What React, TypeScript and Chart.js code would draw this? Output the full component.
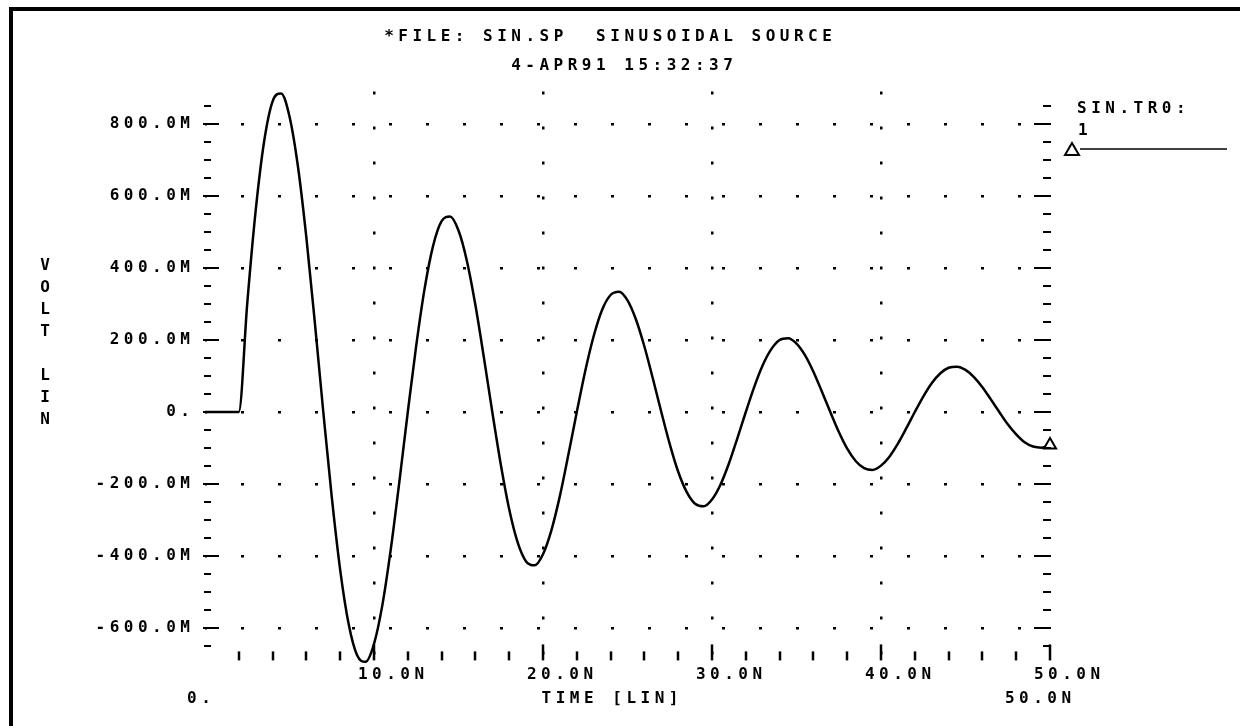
import React, { useEffect, useRef } from "react";
import { Chart, registerables } from "chart.js";

Chart.register(...registerables);

// ---- data ----
const timeNs = [
  0, 0.5, 1, 1.5, 2,
  2.5, 3, 3.5, 4, 4.5, 5, 5.5, 6, 6.5, 7,
  7.5, 8, 8.5, 9, 9.5, 10, 10.5, 11, 11.5, 12,
  12.5, 13, 13.5, 14, 14.5, 15, 15.5, 16, 16.5, 17,
  17.5, 18, 18.5, 19, 19.5, 20, 20.5, 21, 21.5, 22,
  22.5, 23, 23.5, 24, 24.5, 25, 25.5, 26, 26.5, 27,
  27.5, 28, 28.5, 29, 29.5, 30, 30.5, 31, 31.5, 32,
  32.5, 33, 33.5, 34, 34.5, 35, 35.5, 36, 36.5, 37,
  37.5, 38, 38.5, 39, 39.5, 40, 40.5, 41, 41.5, 42,
  42.5, 43, 43.5, 44, 44.5, 45, 45.5, 46, 46.5, 47,
  47.5, 48, 48.5, 49, 49.5, 50,
];

const voltageMv = [
  0, 0, 0, 0, 0,
  302, 560, 752, 863, 885, 821, 682, 484, 248, 0,
  -236, -439, -589, -676, -694, -644, -535, -379, -194, 0,
  185, 344, 462, 530, 543, 504, 419, 297, 152, 0,
  -145, -270, -362, -415, -426, -395, -328, -233, -119, 0,
  114, 211, 284, 325, 334, 310, 257, 182, 93, 0,
  -89, -166, -222, -255, -262, -243, -202, -143, -73, 0,
  70, 130, 174, 200, 205, 190, 158, 112, 57, 0,
  -55, -102, -136, -156, -161, -149, -124, -88, -45, 0,
  43, 80, 107, 123, 126, 117, 97, 69, 35, 0,
  -34, -62, -84, -96, -99, -92,
];

const yTickValues = [800, 600, 400, 200, 0, -200, -400, -600];
const yTickLabels = ["800.0M", "600.0M", "400.0M", "200.0M", "0.", "-200.0M", "-400.0M", "-600.0M"];
const xGridValues = [10, 20, 30, 40];
const xTickValues = [10, 20, 30, 40, 50];
const xTickLabels = ["10.0N", "20.0N", "30.0N", "40.0N", "50.0N"];
const xRangeStartLabel = "0.";
const xRangeEndLabel = "50.0N";
const xAxisTitle = "TIME [LIN]";
const yAxisTitle = "VOLT LIN";
const titleLine1 = "*FILE: SIN.SP  SINUSOIDAL SOURCE";
const titleLine2 = "4-APR91 15:32:37";
const legendFile = "SIN.TR0:";
const legendIndex = "1";

const FONT = 'bold 16px "DejaVu Sans Mono"';
const SPACING = 4.5;

function drawText(ctx: any, text: string, x: number, y: number, align: "left" | "center" | "right") {
  ctx.textAlign = align;
  let dx = 0;
  if (align === "center") dx = SPACING / 2;
  if (align === "right") dx = SPACING;
  ctx.fillText(text, x + dx, y);
}

const hspicePlugin = {
  id: "hspiceDecor",
  afterDraw(chart: any) {
    const ctx = chart.ctx;
    const xs = chart.scales.x;
    const ys = chart.scales.y;
    const L = chart.chartArea.left;
    const R = chart.chartArea.right;
    const B = chart.chartArea.bottom;
    ctx.save();
    ctx.strokeStyle = "#000";
    ctx.fillStyle = "#000";

    // frame
    ctx.lineWidth = 4;
    ctx.beginPath();
    ctx.moveTo(11, 726);
    ctx.lineTo(11, 9);
    ctx.lineTo(1240, 9);
    ctx.stroke();

    // y ticks (left and right), every 50mV, major every 200mV
    ctx.lineWidth = 2;
    for (let v = -650; v <= 850; v += 50) {
      const y = Math.round(ys.getPixelForValue(v));
      const major = v % 200 === 0;
      ctx.beginPath();
      if (major) {
        ctx.moveTo(L - 2, y);
        ctx.lineTo(L + 14, y);
        ctx.moveTo(R + 1, y);
        ctx.lineTo(R - 16, y);
      } else {
        ctx.moveTo(L - 1, y);
        ctx.lineTo(L + 6, y);
        ctx.moveTo(R + 1, y);
        ctx.lineTo(R - 7, y);
      }
      ctx.stroke();
    }

    // x ticks along the bottom, every 2ns, major every 10ns
    ctx.lineWidth = 2.5;
    for (let t = 2; t <= 50; t += 2) {
      const x = Math.round(xs.getPixelForValue(t));
      const major = t % 10 === 0;
      ctx.beginPath();
      ctx.moveTo(x, B);
      ctx.lineTo(x, major ? B - 16 : B - 9);
      ctx.stroke();
    }

    // text
    ctx.font = FONT;
    (ctx as any).letterSpacing = SPACING + "px";
    ctx.textBaseline = "middle";

    yTickValues.forEach((v, i) => {
      drawText(ctx, yTickLabels[i], 190, ys.getPixelForValue(v), "right");
    });
    xTickValues.forEach((v, i) => {
      drawText(ctx, xTickLabels[i], xs.getPixelForValue(v) + 17, 675, "center");
    });
    drawText(ctx, xRangeStartLabel, xs.getPixelForValue(0) - 6, 699, "center");
    drawText(ctx, xRangeEndLabel, xs.getPixelForValue(50) - 12, 699, "center");
    drawText(ctx, xAxisTitle, 610, 699, "center");

    drawText(ctx, titleLine1, 608, 37, "center");
    drawText(ctx, titleLine2, 622, 66, "center");

    // stacked y-axis title
    const chars = yAxisTitle.split("");
    chars.forEach((c, i) => {
      if (c !== " ") drawText(ctx, c, 45, 266 + i * 22, "center");
    });

    // legend
    drawText(ctx, legendFile, 1077, 109, "left");
    drawText(ctx, legendIndex, 1078, 131, "left");
    ctx.lineWidth = 1.5;
    ctx.beginPath();
    ctx.moveTo(1080, 149);
    ctx.lineTo(1227, 149);
    ctx.stroke();
    ctx.lineWidth = 2;
    ctx.fillStyle = "#fff";
    ctx.beginPath();
    ctx.moveTo(1072, 143);
    ctx.lineTo(1079, 155);
    ctx.lineTo(1065, 155);
    ctx.closePath();
    ctx.fill();
    ctx.stroke();

    ctx.restore();
  },
};

export default function App() {
  const canvasRef = useRef<HTMLCanvasElement | null>(null);

  useEffect(() => {
    const canvas = canvasRef.current;
    if (!canvas) return;
    const last = timeNs.length - 1;
    const chart = new Chart(canvas, {
      type: "line",
      data: {
        datasets: [
          {
            data: timeNs.map((t, i) => ({ x: t, y: voltageMv[i] })),
            borderColor: "#000",
            borderWidth: 2.5,
            cubicInterpolationMode: "monotone",
            clip: false as any,
            pointRadius: (c: any) => (c.dataIndex === last ? 7 : 0),
            pointStyle: "triangle",
            pointBackgroundColor: "#fff",
            pointBorderColor: "#000",
            pointBorderWidth: 2,
          },
        ],
      },
      options: {
        responsive: false,
        animation: false,
        events: [],
        layout: { padding: { left: 205, right: 190, top: 91.6, bottom: 65.6 } },
        plugins: {
          legend: { display: false },
          tooltip: { enabled: false },
          title: { display: false },
        },
        scales: {
          x: {
            type: "linear",
            min: 0,
            max: 50,
            afterBuildTicks: (axis: any) => {
              axis.ticks = xGridValues.map((v) => ({ value: v }));
            },
            ticks: { display: false },
            grid: { drawTicks: false, lineWidth: 2.5, color: "#000" },
            border: { display: false, dash: [3, 32] },
          },
          y: {
            type: "linear",
            min: -690,
            max: 890,
            afterBuildTicks: (axis: any) => {
              axis.ticks = yTickValues.map((v) => ({ value: v }));
            },
            ticks: { display: false },
            grid: { drawTicks: false, lineWidth: 2.5, color: "#000" },
            border: { display: false, dash: [3, 34], dashOffset: -36 },
          },
        },
      },
      plugins: [hspicePlugin],
    } as any);
    return () => chart.destroy();
  }, []);

  return (
    <div style={{ position: "fixed", left: 0, top: 0, width: 1240, height: 726, background: "#fff" }}>
      <canvas ref={canvasRef} width={1240} height={726} style={{ display: "block" }} />
    </div>
  );
}
